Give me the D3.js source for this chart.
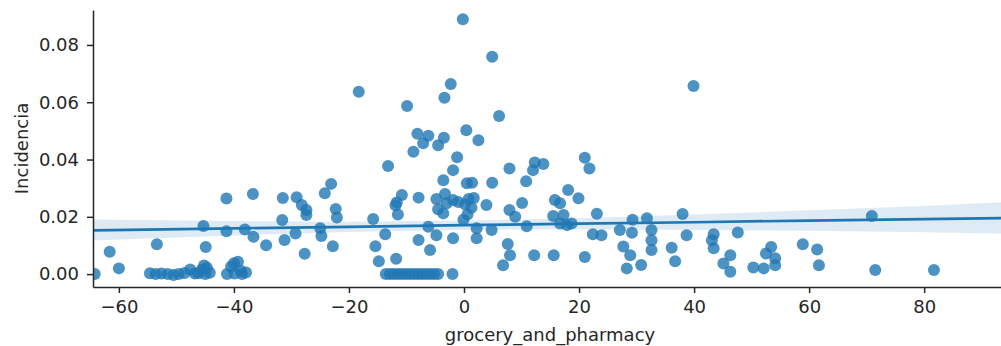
<!DOCTYPE html>
<html>
<head>
<meta charset="utf-8">
<script src="https://cdn.jsdelivr.net/npm/d3@7"></script>
<style>
  body { margin: 0; background: #fff; }
  svg { display: block; font-family: "DejaVu Sans", sans-serif; }
</style>
</head>
<body>
<div id="chart"></div>
<script>
// grocery_and_pharmacy vs Incidencia
var points = [
  [-64.2, 0.0], [-61.6, 0.0078], [-60.0, 0.0020], [-53.4, 0.0104],
  [-54.6, 0.0003], [-53.6, 0.0], [-52.6, 0.0002], [-51.5, 0.0], [-50.5, -0.0003],
  [-49.6, 0.0], [-48.6, 0.0004], [-47.6, 0.0016], [-46.8, 0.0002],
  [-45.3, 0.0168], [-44.9, 0.0095],
  [-46.2, 0.0003], [-45.6, 0.0015], [-45.2, 0.0030], [-44.7, 0.0022], [-44.2, 0.0005], [-45.0, 0.0],
  [-41.3, 0.0264], [-41.3, 0.0150],
  [-41.2, 0.0], [-40.5, 0.0026], [-39.9, 0.0002], [-39.3, 0.0043], [-38.8, 0.0012],
  [-38.6, 0.0], [-37.9, 0.0006], [-40.0, 0.0038],
  [-36.7, 0.0280], [-38.1, 0.0156], [-36.6, 0.0130], [-34.4, 0.0101],
  [-31.5, 0.0266], [-31.6, 0.0189], [-31.2, 0.0119],
  [-29.1, 0.0268], [-29.3, 0.0142], [-28.2, 0.0241], [-27.4, 0.0224], [-27.4, 0.0206], [-27.7, 0.0071],
  [-25.0, 0.0160], [-24.8, 0.0133], [-24.2, 0.0282], [-23.1, 0.0315],
  [-22.3, 0.0227], [-22.1, 0.0198], [-22.8, 0.0097],
  [-18.3, 0.0637], [-15.8, 0.0192], [-13.7, 0.0139], [-15.4, 0.0097], [-14.8, 0.0045],
  [-11.8, 0.0054], [-13.2, 0.0377], [-9.9, 0.0587],
  [-11.7, 0.0250], [-10.8, 0.0276], [-11.9, 0.0240], [-11.5, 0.0208],
  [-7.9, 0.0267], [-8.1, 0.0490], [-6.2, 0.0483], [-7.1, 0.0457], [-8.8, 0.0427],
  [-4.5, 0.0450], [-3.5, 0.0476], [-2.3, 0.0664], [-3.4, 0.0616],
  [-0.2, 0.0890], [4.9, 0.0759], [6.1, 0.0552], [0.4, 0.0502], [2.5, 0.0467],
  [-1.2, 0.0408], [-1.9, 0.0363], [-3.6, 0.0328],
  [-4.8, 0.0262], [-3.3, 0.0280], [-3.0, 0.0247], [-4.5, 0.0226], [-3.6, 0.0212],
  [-1.9, 0.0259], [-1.0, 0.0252], [0.8, 0.0262], [0.2, 0.0244], [1.3, 0.0232],
  [0.6, 0.0208], [-0.1, 0.0190], [1.7, 0.0266],
  [0.5, 0.0317], [1.4, 0.0319], [4.9, 0.0319], [3.9, 0.0241],
  [-6.2, 0.0165], [-4.8, 0.0136], [-7.9, 0.0119], [-5.9, 0.0084], [-1.9, 0.0125], [-2.0, 0.0],
  [-13.6, 0.0], [-12.9, 0.0], [-12.2, 0.0], [-11.5, 0.0], [-10.8, 0.0], [-10.1, 0.0], [-9.4, 0.0],
  [-8.7, 0.0], [-8.0, 0.0], [-7.3, 0.0], [-6.6, 0.0], [-5.9, 0.0], [-5.2, 0.0], [-4.5, 0.0],
  [2.2, 0.0160], [2.2, 0.0125], [4.8, 0.0154], [7.6, 0.0105], [8.0, 0.0066], [6.8, 0.0031],
  [7.9, 0.0369], [12.3, 0.0390], [13.8, 0.0384], [12.0, 0.0363], [10.8, 0.0324],
  [7.9, 0.0224], [8.9, 0.0200], [10.1, 0.0248], [10.9, 0.0167], [12.2, 0.0066],
  [15.6, 0.0066], [15.5, 0.0203], [15.8, 0.0259], [16.7, 0.0247], [17.3, 0.0206],
  [16.7, 0.0177], [17.9, 0.0171], [18.7, 0.0177], [18.1, 0.0294], [19.9, 0.0265],
  [21.0, 0.0406], [21.8, 0.0369], [23.1, 0.0211], [22.4, 0.0139], [23.9, 0.0136], [21.0, 0.0060],
  [27.1, 0.0154], [29.3, 0.0190], [29.2, 0.0144], [27.7, 0.0096], [28.9, 0.0066],
  [28.3, 0.0020], [30.8, 0.0032], [31.8, 0.0195],
  [32.6, 0.0154], [32.6, 0.0118], [32.6, 0.0084],
  [38.0, 0.0210], [38.7, 0.0136], [36.1, 0.0092], [36.7, 0.0045], [39.9, 0.0657],
  [43.4, 0.0139], [43.1, 0.0118], [43.4, 0.0090],
  [47.6, 0.0145], [46.3, 0.0066], [45.1, 0.0037], [46.3, 0.0008],
  [50.3, 0.0023], [52.1, 0.0020], [53.4, 0.0095], [52.5, 0.0072], [54.1, 0.0055], [54.1, 0.0031],
  [58.9, 0.0104], [61.4, 0.0086], [61.7, 0.0031],
  [70.9, 0.0203], [71.5, 0.0014], [81.7, 0.0014]
];

// regression line and its confidence band, as drawn
var fitX   = [-64.5, -40, -20, 0, 20, 40, 60, 80, 94.4];
var fitY   = [0.0153, 0.0160, 0.0165, 0.0171, 0.0176, 0.0181, 0.0187, 0.0192, 0.0196];
var ciLow  = [0.0117, 0.0135, 0.0147, 0.0155, 0.0157, 0.0154, 0.0151, 0.0146, 0.0141];
var ciHigh = [0.0191, 0.0185, 0.0183, 0.0187, 0.0195, 0.0208, 0.0223, 0.0238, 0.0252];

var xTicks = [-60, -40, -20, 0, 20, 40, 60, 80];
var yTicks = [0.00, 0.02, 0.04, 0.06, 0.08];

var width = 1001, height = 346;
var mLeft = 93, mRight = 1007, mTop = 10, mBottom = 287;
var blue = "#1f77b4", ink = "#262626";

var svg = d3.select("#chart").append("svg")
    .attr("width", width)
    .attr("height", height);

var x = d3.scaleLinear().domain([-64.5, 94.4]).range([mLeft, mRight]);
var y = d3.scaleLinear().domain([-0.0045, 0.0922]).range([mBottom, mTop]);

svg.append("clipPath").attr("id", "plotclip")
  .append("rect")
    .attr("x", mLeft).attr("y", mTop)
    .attr("width", mRight - mLeft).attr("height", mBottom - mTop);

var plot = svg.append("g").attr("clip-path", "url(#plotclip)");

plot.append("g").attr("class", "points")
  .selectAll("circle")
  .data(points)
  .enter().append("circle")
    .attr("cx", function(d) { return x(d[0]); })
    .attr("cy", function(d) { return y(d[1]); })
    .attr("r", 6)
    .attr("fill", blue)
    .attr("fill-opacity", 0.8);

var line = d3.line()
    .x(function(d, i) { return x(fitX[i]); })
    .y(function(d) { return y(d); });

plot.append("path")
    .attr("d", line(fitY))
    .attr("fill", "none")
    .attr("stroke", blue)
    .attr("stroke-width", 2.7);

var band = d3.area()
    .x(function(d, i) { return x(fitX[i]); })
    .y0(function(d, i) { return y(ciLow[i]); })
    .y1(function(d, i) { return y(ciHigh[i]); });

plot.append("path")
    .attr("d", band(fitX))
    .attr("fill", blue)
    .attr("fill-opacity", 0.15);

// axes
var xAxis = svg.append("g")
    .attr("transform", "translate(0," + mBottom + ")")
    .call(d3.axisBottom(x).tickValues(xTicks).tickSize(6).tickPadding(7).tickSizeOuter(0));

var yAxis = svg.append("g")
    .attr("transform", "translate(" + mLeft + ",0)")
    .call(d3.axisLeft(y).tickValues(yTicks).tickFormat(d3.format(".2f")).tickSize(6).tickPadding(8).tickSizeOuter(0));

[xAxis, yAxis].forEach(function(g) {
  g.select(".domain").attr("stroke", ink).attr("stroke-width", 1.5);
  g.selectAll(".tick line").attr("stroke", ink).attr("stroke-width", 1.5);
  g.selectAll(".tick text")
      .attr("fill", ink)
      .style("font-size", "18px")
      .style("font-family", "DejaVu Sans, sans-serif");
});

svg.append("text")
    .attr("x", (mLeft + mRight) / 2)
    .attr("y", 341)
    .attr("text-anchor", "middle")
    .attr("fill", ink)
    .style("font-size", "18px")
    .text("grocery_and_pharmacy");

svg.append("text")
    .attr("transform", "translate(27.5," + (mTop + mBottom) / 2 + ") rotate(-90)")
    .attr("text-anchor", "middle")
    .attr("fill", ink)
    .style("font-size", "18px")
    .text("Incidencia");
</script>
</body>
</html>
